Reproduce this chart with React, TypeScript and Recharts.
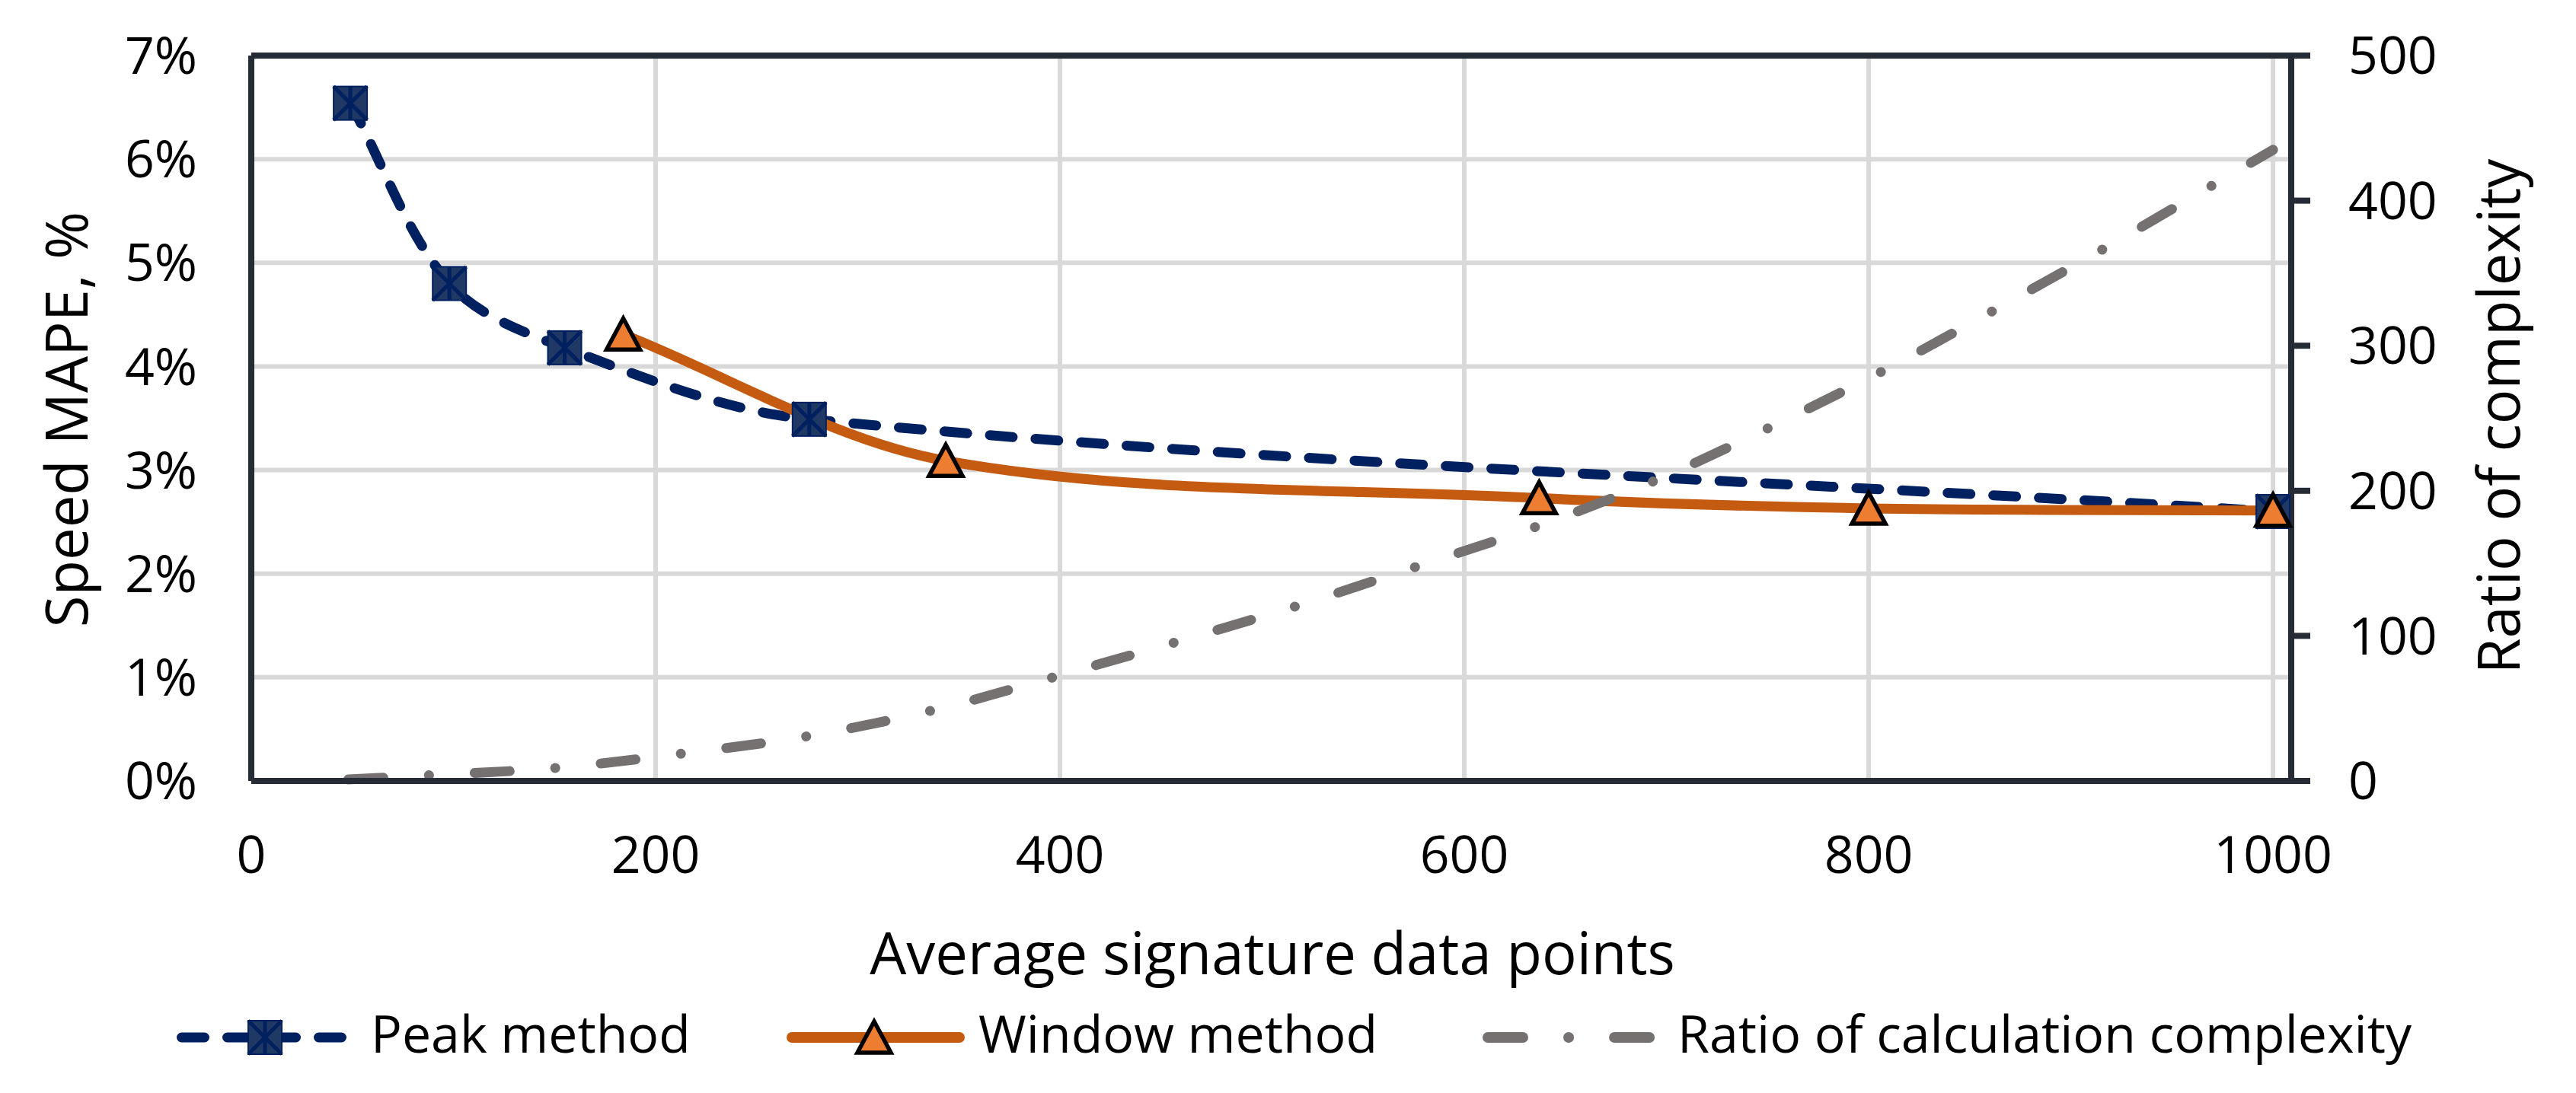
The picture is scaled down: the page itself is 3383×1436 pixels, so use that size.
import React from 'react';
import { LineChart, Line, XAxis, YAxis, CartesianGrid, ReferenceLine } from 'recharts';

// Peak method (left axis, %)
const peakX = [49, 98, 155, 276, 1000];
const peakMape = [6.54, 4.8, 4.18, 3.49, 2.6];

// Window method (left axis, %)
const windowX = [184, 343.5, 637, 800, 1000];
const windowMape = [4.31, 3.09, 2.73, 2.63, 2.61];

// Ratio of calculation complexity (right axis)
const ratioX = [48, 89, 151, 214, 276, 338, 398, 458, 518, 577, 637, 696, 753, 809, 864, 919, 973, 1000];
const ratioValues = [1, 4, 9, 19, 31, 49, 72, 96, 121, 148, 176, 208, 245, 284, 326, 369, 413, 435];

const xTicks = [0, 200, 400, 600, 800, 1000];
const mapeTicks = [0, 1, 2, 3, 4, 5, 6, 7];
const ratioTicks = [0, 100, 200, 300, 400, 500];

const FONT = '"Open Sans", Lato, sans-serif';
const AXIS = '#262C35';
const GRID = '#D9D9D9';
const NAVY = '#002060';
const ORANGE = '#C55A11';
const GREY = '#767171';

const peakData = peakX.map((x, i) => ({ x, mape: peakMape[i] }));
const windowData = windowX.map((x, i) => ({ x, mape: windowMape[i] }));
const ratioData = ratioX.map((x, i) => ({ x, ratio: ratioValues[i] }));

// Excel-like smoothed line: bezier with tangents scaled by segment length
const excelSmooth: any = (context: any) => {
  let pts: number[][] = [];
  const dist = (a: number[], b: number[]) => Math.hypot(b[0] - a[0], b[1] - a[1]);
  return {
    areaStart() {},
    areaEnd() {},
    lineStart() {
      pts = [];
    },
    lineEnd() {
      const n = pts.length;
      if (!n) return;
      context.moveTo(pts[0][0], pts[0][1]);
      for (let i = 0; i < n - 1; i++) {
        const p0 = pts[Math.max(i - 1, 0)];
        const p1 = pts[i];
        const p2 = pts[i + 1];
        const p3 = pts[Math.min(i + 2, n - 1)];
        const d01 = dist(p0, p1);
        const d12 = dist(p1, p2);
        const d23 = dist(p2, p3);
        const f1 = d01 + d12 > 0 ? d12 / (d01 + d12) / 3 : 0;
        const f2 = d12 + d23 > 0 ? d12 / (d12 + d23) / 3 : 0;
        context.bezierCurveTo(
          p1[0] + (p2[0] - p0[0]) * f1,
          p1[1] + (p2[1] - p0[1]) * f1,
          p2[0] - (p3[0] - p1[0]) * f2,
          p2[1] - (p3[1] - p1[1]) * f2,
          p2[0],
          p2[1]
        );
      }
    },
    point(x: number, y: number) {
      pts.push([+x, +y]);
    },
  };
};

const StarSquare = ({ cx, cy }: { cx: number; cy: number }) => {
  const h = 22;
  return (
    <g>
      <rect x={cx - h} y={cy - h} width={h * 2} height={h * 2} fill="#203864" stroke={NAVY} strokeWidth={2} />
      <line x1={cx - h} y1={cy - h} x2={cx + h} y2={cy + h} stroke={NAVY} strokeWidth={5} />
      <line x1={cx - h} y1={cy + h} x2={cx + h} y2={cy - h} stroke={NAVY} strokeWidth={5} />
      <line x1={cx} y1={cy - h} x2={cx} y2={cy + h} stroke={NAVY} strokeWidth={5} />
    </g>
  );
};

const Triangle = ({ cx, cy }: { cx: number; cy: number }) => (
  <polygon
    points={`${cx},${cy - 21} ${cx + 22},${cy + 20} ${cx - 22},${cy + 20}`}
    fill="#ED7D31"
    stroke="#000"
    strokeWidth={5.5}
  />
);

const XTitle = () => (
  <text x={1671} y={1280} textAnchor="middle" fontSize={76} fontFamily={FONT} fill="#000">
    Average signature data points
  </text>
);

const LeftTitle = () => (
  <text x={115} y={551} transform="rotate(-90 115 551)" textAnchor="middle" fontSize={76} fontFamily={FONT} fill="#000">
    Speed MAPE, %
  </text>
);

const RightTitle = () => (
  <text x={3309} y={547} transform="rotate(-90 3309 547)" textAnchor="middle" fontSize={76} fontFamily={FONT} fill="#000">
    Ratio of complexity
  </text>
);

const tickStyle = { fill: '#000', fontSize: 68, fontFamily: FONT };

const ChartLegend = () => (
  <svg width={3383} height={120} style={{ position: 'absolute', left: 0, top: 1300 }}>
    <g fontSize={68} fontFamily={FONT} fill="#000">
      <line x1={238.5} y1={63} x2={450.5} y2={63} stroke={NAVY} strokeWidth={13} strokeDasharray="30 30" strokeLinecap="round" />
      <StarSquare cx={348} cy={63} />
      <text x={487} y={83}>Peak method</text>

      <line x1={1040} y1={63} x2={1260} y2={63} stroke={ORANGE} strokeWidth={14} strokeLinecap="round" />
      <Triangle cx={1148} cy={63} />
      <text x={1285} y={83}>Window method</text>

      <line x1={1954} y1={63} x2={2167} y2={63} stroke={GREY} strokeWidth={14} strokeDasharray="46 60 0.1 60" strokeLinecap="round" />
      <text x={2203} y={83}>Ratio of calculation complexity</text>
    </g>
  </svg>
);

export default function App() {
  return (
    <div style={{ position: 'relative', width: 3383, height: 1436, background: '#fff' }}>
      <style>{'body{margin:0;}'}</style>
      <LineChart width={3383} height={1436} margin={{ top: 73, right: 0, bottom: 150, left: 0 }}>
        <CartesianGrid yAxisId="left" stroke={GRID} strokeWidth={6} />
        <XAxis
          dataKey="x"
          type="number"
          domain={[0, 1009]}
          ticks={xTicks}
          interval={0}
          height={260}
          tickLine={false}
          tickSize={0}
          tickMargin={73}
          tick={tickStyle}
          axisLine={{ stroke: AXIS, strokeWidth: 8 }}
          label={<XTitle />}
        />
        <YAxis
          yAxisId="left"
          domain={[0, 7]}
          ticks={mapeTicks}
          interval={0}
          width={330}
          tickFormatter={(v: number) => `${v}%`}
          tickLine={false}
          tickSize={0}
          tickMargin={71}
          tick={tickStyle}
          axisLine={{ stroke: AXIS, strokeWidth: 8 }}
          label={<LeftTitle />}
        />
        <YAxis
          yAxisId="right"
          orientation="right"
          domain={[0, 500]}
          ticks={ratioTicks}
          interval={0}
          width={374}
          tickSize={25}
          tickMargin={50}
          tickLine={{ stroke: AXIS, strokeWidth: 8 }}
          tick={tickStyle}
          axisLine={{ stroke: AXIS, strokeWidth: 8 }}
          label={<RightTitle />}
        />
        <ReferenceLine yAxisId="left" y={7} stroke={AXIS} strokeWidth={8} />
        <Line
          yAxisId="left"
          data={peakData}
          dataKey="mape"
          type={excelSmooth}
          stroke={NAVY}
          strokeWidth={13}
          strokeDasharray="30 30"
          strokeLinecap="round"
          dot={(p: any) => <StarSquare key={`pk-${p.index}`} cx={p.cx} cy={p.cy} />}
          activeDot={false}
          isAnimationActive={false}
        />
        <Line
          yAxisId="left"
          data={windowData}
          dataKey="mape"
          type={excelSmooth}
          stroke={ORANGE}
          strokeWidth={13}
          dot={(p: any) => <Triangle key={`wn-${p.index}`} cx={p.cx} cy={p.cy} />}
          activeDot={false}
          isAnimationActive={false}
        />
        <Line
          yAxisId="right"
          data={ratioData}
          dataKey="ratio"
          type={excelSmooth}
          stroke={GREY}
          strokeWidth={13}
          strokeDasharray="46 60 0.1 60"
          strokeLinecap="round"
          dot={false}
          activeDot={false}
          isAnimationActive={false}
        />
      </LineChart>
      <ChartLegend />
    </div>
  );
}
